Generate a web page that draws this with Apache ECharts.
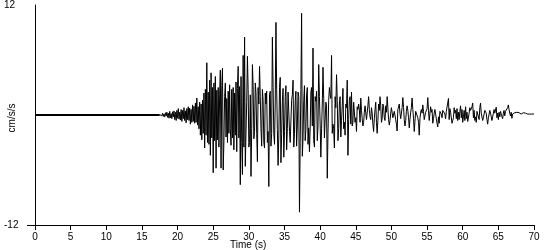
<!DOCTYPE html>
<html>
<head>
<meta charset="utf-8">
<script src="https://cdn.jsdelivr.net/npm/echarts@6/dist/echarts.min.js"></script>
<style>html,body{margin:0;padding:0;background:#fff}#c{width:550px;height:250px}</style>
</head>
<body>
<div id="c"></div>
<script>
// Sampling step of the digitised record (s)
const dt = 0.1;

// Quiet part before the first arrival
const preEventTimes = [0, 17.5];
const preEventValues = [0, 0];

// Onset (P-wave) portion, starting at 17.5 s
const onsetStart = 17.5;
const onsetValues = [
  0.05,-0.1,0.15,-0.1,0.2,-0.15,0.1,-0.2,0.25,-0.1,
  0.3,-0.25,0.2,-0.35,0.4,-0.3,0.15,-0.4,0.35,-0.2,
  0.45,-0.5,0.3,-0.6,0.5,-0.35,0.7,-0.45,0.3,-0.55,
  0.6,-0.7,0.5,-0.4,0.8,-0.6,0.45,-0.85,0.7,-0.5,
  0.9,-0.6,0.75,-1.0,0.6,-0.8,1.1,-0.7,0.95,-0.9
];

// Strong-motion portion, starting at 22.5 s
const strongStart = 22.5;
const strongValues = [
  1.3,-0.8,1.85,-1.1,0.9,-1.5,1.4,-2.2,1.2,-2.7,
  1.6,-2.0,2.4,-3.6,2.8,-2.2,5.7,-3.0,2.5,-3.2,
  3.8,-4.4,4.6,-2.5,3.0,-6.3,3.5,-2.8,4.2,-5.8,
  2.7,-2.7,3.0,-3.5,2.2,4.9,-5.8,3.2,5.1,-6.0,
  -2.9,2.0,3.5,-2.4,1.8,-3.0,2.6,-2.0,3.3,-1.5,
  -3.3,2.8,-2.5,3.0,-3.8,2.4,-2.2,3.6,-4.0,2.9,
  5.3,-2.5,3.1,-7.6,4.2,-3.0,-6.5,6.5,-3.5,8.5,
  -5.6,-2.0,1.5,6.4,2.8,-3.5,-3.0,2.2,-6.7,-1.5,
  5.5,3.2,-2.6,-1.8,3.5,2.4,-2.0,-5.1,3.0,1.2,
  5.3,2.0,-1.5,-3.4,2.8,1.6,-3.0,-3.6,2.4,1.2,
  2.6,-3.0,-1.8,-7.8,2.2,2.6,-3.4,-2.0,8.5,3.0,
  -2.0,-3.2,1.4,10.1,2.8,-1.6,-5.5,-2.4,3.0,4.1,
  -5.2,-2.0,1.5,2.9,-4.6,-1.8,2.0,3.2,-3.8,-1.5,
  2.5,2.4,-1.8,-3.0,-3.0,1.6,2.2,3.8,-3.5,-2.0,
  1.5,2.6,-3.4,-1.2,2.5,2.0,-10.6,-3.0,2.8,11.1,
  -4.5,-2.5,1.6,3.2,-2.8,-1.6,2.2,3.0,-3.2,-1.4,
  -4.0,-1.5,2.5,3.0,-1.2,7.3,-2.8,-3.5,2.0,1.5,
  2.6,-2.8,-1.2,5.5,2.0,-1.0,-4.6,-1.5,1.2,5.2,
  1.8,-2.5,-2.6,1.4,1.0,-6.9,-2.0,1.6,3.0,2.2,
  1.8,6.5,-2.0,-1.0,-1.5,-3.6,2.0,0.8,4.4,1.6,
  -2.8,-1.5,1.2,2.0,-2.4,-0.6,1.0,2.9,-1.5,-0.8,
  -2.2,1.2,0.8,3.8,-4.4,-0.5,1.6,2.0,-1.0,2.5,
  -1.2,-0.8,1.4,1.6,-0.8,-0.3,-1.8,0.9,0.6,1.2
];

// Coda portion, starting at 45.5 s
const codaStart = 45.5;
const codaValues = [
  0.6,-0.8,1.85,0.5,-0.4,-1.2,-0.8,0.3,1.0,0.9,
  -0.5,-0.4,1.0,2.0,0.6,-0.2,-0.5,0.8,0.2,-1.0,
  -1.8,-0.4,0.6,1.4,-0.8,-2.0,-0.6,1.2,0.5,2.0,
  1.0,-0.8,-0.4,1.2,0.9,-0.3,-0.6,1.0,0.3,2.0,
  0.8,-0.5,-1.1,-0.6,0.2,0.8,0.7,-0.3,-0.5,0.4,
  0.3,-0.5,-1.0,-1.75,0.6,0.4,1.2,0.2,-0.4,-0.6,
  0.8,1.9,0.8,-0.5,-1.2,-0.6,0.4,1.0,0.5,-0.3,
  -1.4,-0.5,0.3,0.8,1.85,0.6,-0.4,-1.8,-0.7,0.4,
  0.6,0.5,-0.3,-0.8,-2.2,-0.4,0.3,0.6,0.2,1.1,
  0.4,-0.5,-0.6,0.3,0.2,0.7,1.9,0.5,-0.6,-0.8,
  0.9,0.3,0.6,-0.9,-0.4,0.2,0.6,0.8,-0.4,-0.9,
  -1.3,-0.2,-0.9,0.4,0.6,0.1,-0.3,0.5,0.5,0.3,
  0.1,-0.4,0.4,0.2,0.6,1.8,-0.5,0.7,0.3,0.5,
  -0.9,-0.6,-0.3,0.8,0.2,0.5,-0.4,0.7,-0.6,0.3,
  -0.5,0.4,1.0,-0.3,0.6,-0.8,-0.2,0.5,-0.6,0.9,
  -0.4,0.3,-0.7,-0.5,0.2,0.8,0.5,0.4,0.9,1.3,
  -0.3,0.5,-0.6,-0.2,-0.8,0.4,0.2,0.6,-0.5,0.8,
  1.3,0.2,0.4,-0.6,-0.3,-0.4,0.5,0.3,0.2,-0.5,
  -1.0,-0.3,-0.4,0.5,0.2,0.4,-0.6,-0.2,-0.3,0.6,
  0.2,0.4,0.85,-0.3,0.2,-0.5,0.3,-0.2,0.4,0.1,
  0.3,-0.4,0.2,0.5,-0.1,0.4,0.3,0.6,0.8,1.1,
  0.6,0.2,-0.1,0.3,-0.36,0.1,0.2,0.3,0.25,0.1,
  0.15,0.3,0.2,0.1,0.25,0.3,0.15,0.1,0.2,0.3,
  0.25,0.1,0.15,0.2,0.1,0.15,0.1,0.2,0.15,0.1,
  0.15,0.2,0.1,0.15,0.1,0.12
];

// Axis tick labels
const xTickStep = 5;
const yLabelValues = [-12, 12];

function seg(start, vals) {
  return vals.map(function (v, i) { return [+(start + i * dt).toFixed(2), v]; });
}
const recordData = [].concat(
  seg(onsetStart, onsetValues),
  seg(strongStart, strongValues),
  seg(codaStart, codaValues)
);
const preData = preEventTimes.map(function (t, i) { return [t, preEventValues[i]]; });

const FONT = 'Liberation Sans, Arial, sans-serif';
const chart = echarts.init(document.getElementById('c'), null, { renderer: 'canvas' });
chart.setOption({
  animation: false,
  backgroundColor: '#fff',
  grid: { left: 35, right: 16, top: 5, bottom: 25, containLabel: false, outerBoundsMode: 'none' },
  xAxis: {
    type: 'value', min: 0, max: 70, interval: xTickStep,
    axisLine: { show: true, onZero: false, lineStyle: { color: '#000', width: 1 } },
    axisTick: { show: true, length: 5, lineStyle: { color: '#000' } },
    axisLabel: { color: '#000', fontSize: 10, fontFamily: FONT, margin: 7 },
    splitLine: { show: false }
  },
  yAxis: {
    type: 'value', min: -12, max: 12, interval: 12,
    axisLine: { show: true, onZero: false, lineStyle: { color: '#000', width: 1 } },
    axisTick: { show: true, customValues: [-12], length: 8, lineStyle: { color: '#000' } },
    axisLabel: { customValues: yLabelValues, color: '#000', fontSize: 10, fontFamily: FONT, align: 'left', margin: 31 },
    splitLine: { show: false }
  },
  graphic: [{
    type: 'text', left: 230, top: 240,
    style: { text: 'Time (s)', fill: '#000', font: '10px ' + FONT }
  }, {
    type: 'text', x: 12, y: 118, rotation: Math.PI / 2,
    style: { text: 'cm/s/s', fill: '#000', font: '10px ' + FONT, textAlign: 'center', textVerticalAlign: 'middle' }
  }],
  series: [
    { type: 'line', data: preData, showSymbol: false, lineStyle: { color: '#000', width: 2 }, silent: true },
    { type: 'line', data: recordData, showSymbol: false, lineStyle: { color: '#000', width: 1 }, silent: true }
  ]
});
</script>
</body>
</html>
